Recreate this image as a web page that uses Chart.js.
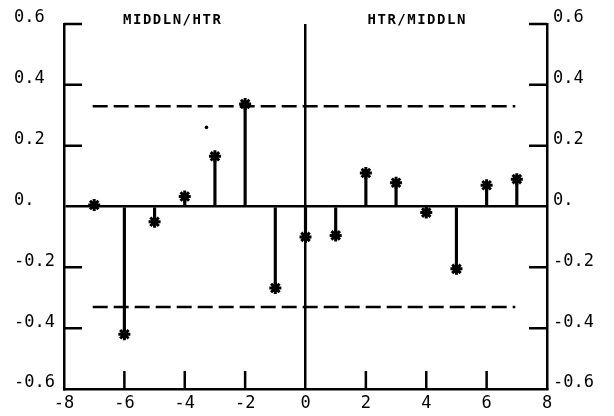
<!DOCTYPE html>
<html>
<head>
<meta charset="utf-8">
<script src="https://cdn.jsdelivr.net/npm/chart.js@4"></script>
<style>
  html, body { margin: 0; padding: 0; background: #fff; }
  #wrap { width: 614px; height: 416px; }
</style>
</head>
<body>
<div id="wrap"><canvas id="ccfChart" width="614" height="416"></canvas></div>
<script>
// lags and cross-correlation values
const lags = [-7, -6, -5, -4, -3, -2, -1, 0, 1, 2, 3, 4, 5, 6, 7];
const corr = [0.005, -0.42, -0.05, 0.033, 0.165, 0.337, -0.268, -0.10, -0.095, 0.11, 0.078, -0.02, -0.205, 0.07, 0.09];
const bandLags = [-7.05, 6.95];
const bandLevel = 0.33;
const strayLag = [-3.28];
const strayVal = [0.26];
const panelLabels = ['MIDDLN/HTR', 'HTR/MIDDLN'];
const panelLabelLag = [-4.4, 3.7];
const xTickValues = [-8, -6, -4, -2, 0, 2, 4, 6, 8];
const xTickLabels = ['-8', '-6', '-4', '-2', '0', '2', '4', '6', '8'];
const yTickValues = [-0.6, -0.4, -0.2, 0, 0.2, 0.4, 0.6];
const yTickLabels = ['-0.6', '-0.4', '-0.2', '0.', '0.2', '0.4', '0.6'];

const ink = '#000';
const tickFont = { family: 'DejaVu Sans Mono', size: 17 };

const points = lags.map((l, i) => ({ x: l, y: corr[i] }));
const band = s => bandLags.map(l => ({ x: l, y: s * bandLevel }));

// short tick marks pointing into the plot
const inwardTicks = {
  id: 'inwardTicks',
  beforeDatasetsDraw(chart) {
    const { ctx, chartArea: a, scales: { x, y } } = chart;
    ctx.save();
    ctx.strokeStyle = ink;
    ctx.lineWidth = 2.5;
    ctx.beginPath();
    yTickValues.forEach(v => {
      if (v === 0 || v === -0.6) return;
      const py = y.getPixelForValue(v);
      ctx.moveTo(a.left, py); ctx.lineTo(a.left + 18, py);
      ctx.moveTo(a.right, py); ctx.lineTo(a.right - 18, py);
    });
    xTickValues.forEach(v => {
      if (v === 0 || Math.abs(v) === 8) return;
      const px = x.getPixelForValue(v);
      ctx.moveTo(px, a.bottom); ctx.lineTo(px, a.bottom - 18);
    });
    ctx.stroke();
    ctx.restore();
  }
};

const panelTitles = {
  id: 'panelTitles',
  afterDraw(chart) {
    const { ctx, scales: { x } } = chart;
    ctx.save();
    ctx.fillStyle = ink;
    ctx.font = 'bold 14px "DejaVu Sans Mono"';
    ctx.letterSpacing = '1.5px';
    ctx.textAlign = 'center';
    ctx.textBaseline = 'middle';
    panelLabels.forEach((t, i) => {
      ctx.fillText(t, x.getPixelForValue(panelLabelLag[i]), 20);
    });
    ctx.restore();
  }
};

new Chart(document.getElementById('ccfChart'), {
  type: 'scatter',
  data: {
    datasets: [
      {
        type: 'scatter',
        data: points,
        pointStyle: 'star',
        pointRadius: 6,
        borderWidth: 3,
        borderColor: ink,
        backgroundColor: ink,
        order: 0
      },
      {
        type: 'bar',
        data: points,
        barThickness: 2.5,
        backgroundColor: ink,
        grouped: false,
        order: 1
      },
      {
        type: 'line',
        data: band(1),
        borderColor: ink,
        borderWidth: 2.5,
        borderDash: [15, 6],
        pointRadius: 0,
        order: 2
      },
      {
        type: 'line',
        data: band(-1),
        borderColor: ink,
        borderWidth: 2.5,
        borderDash: [15, 6],
        pointRadius: 0,
        order: 2
      },
      {
        type: 'scatter',
        data: strayLag.map((l, i) => ({ x: l, y: strayVal[i] })),
        pointStyle: 'circle',
        pointRadius: 1.8,
        borderWidth: 0,
        backgroundColor: ink,
        order: 0
      }
    ]
  },
  options: {
    responsive: false,
    animation: false,
    devicePixelRatio: 1,
    layout: { padding: { left: 14, top: 24, right: 0, bottom: 0 } },
    plugins: { legend: { display: false }, tooltip: { enabled: false } },
    scales: {
      x: {
        type: 'linear',
        min: -8, max: 8,
        offset: false,
        afterFit: s => { s.height = 27; },
        afterBuildTicks: s => { s.ticks = xTickValues.map(v => ({ value: v })); },
        ticks: {
          color: ink, font: tickFont, padding: 4, maxRotation: 0,
          callback: (v, i) => xTickLabels[i]
        },
        grid: {
          offset: false,
          drawTicks: false,
          color: c => (c.tick && c.tick.value === 0 ? ink : 'rgba(0,0,0,0)'),
          lineWidth: 2.5
        },
        border: { display: true, color: ink, width: 2.5 }
      },
      y: {
        position: 'left',
        min: -0.6, max: 0.6,
        afterFit: s => { s.width = 50; },
        afterBuildTicks: s => { s.ticks = yTickValues.map(v => ({ value: v })); },
        ticks: {
          color: ink, font: tickFont, crossAlign: 'far', labelOffset: -6, padding: 0,
          callback: (v, i) => yTickLabels[i]
        },
        grid: {
          offset: false,
          drawTicks: false,
          color: c => (c.tick && c.tick.value === 0 ? ink : 'rgba(0,0,0,0)'),
          lineWidth: 2.5
        },
        border: { display: true, color: ink, width: 2.5 }
      },
      y2: {
        position: 'right',
        min: -0.6, max: 0.6,
        afterFit: s => { s.width = 67; },
        afterBuildTicks: s => { s.ticks = yTickValues.map(v => ({ value: v })); },
        ticks: {
          color: ink, font: tickFont, crossAlign: 'near', labelOffset: -6, padding: 6,
          callback: (v, i) => yTickLabels[i]
        },
        grid: { display: false, drawTicks: false },
        border: { display: true, color: ink, width: 2.5 }
      }
    }
  },
  plugins: [inwardTicks, panelTitles]
});
</script>
</body>
</html>
